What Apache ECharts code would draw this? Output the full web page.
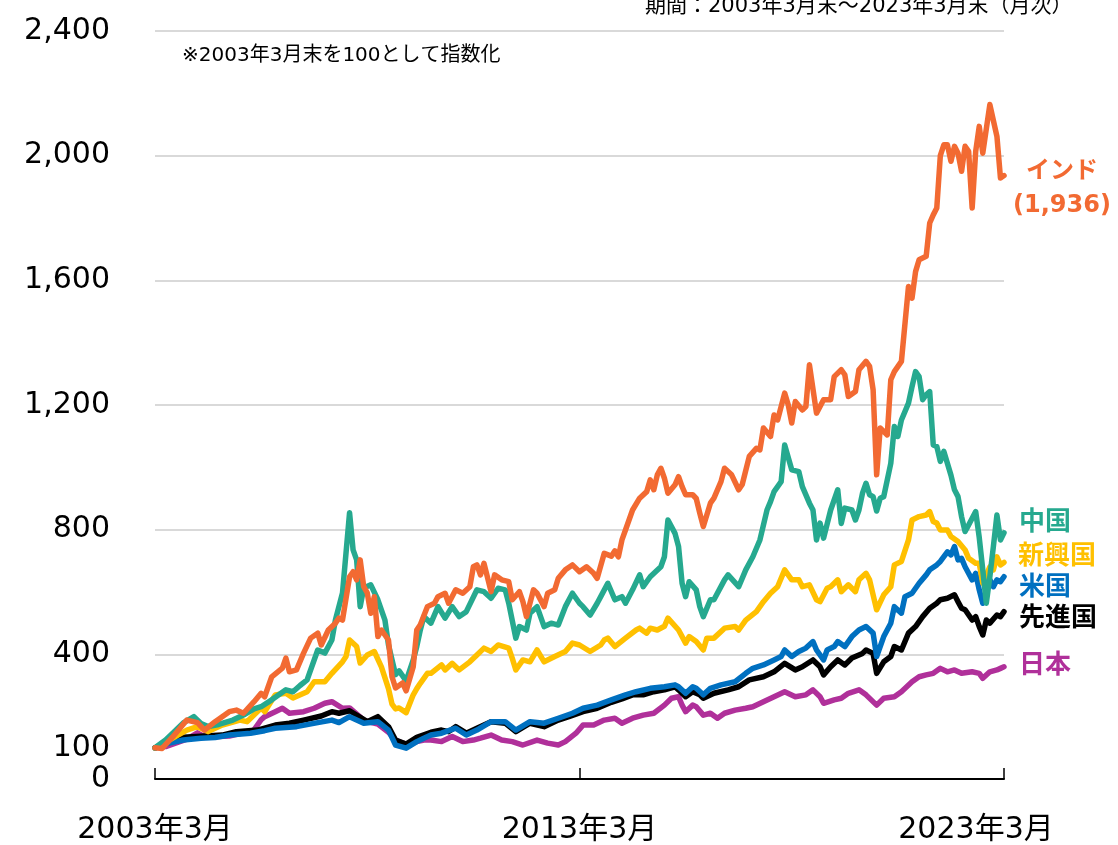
<!DOCTYPE html>
<html>
<head>
<meta charset="utf-8">
<script src="https://cdn.jsdelivr.net/npm/echarts@6/dist/echarts.min.js"></script>
<style>
html,body{margin:0;padding:0;background:#fff;}
#chart{width:1118px;height:845px;}
</style>
</head>
<body>
<div id="chart"></div>
<script>
// ---- data: [months since 2003-03, index value (2003-03 = 100)] ----
const xTickLabels = ['2003年3月', '2013年3月', '2023年3月'];
const yTicks = [0, 100, 400, 800, 1200, 1600, 2000, 2400];
const seriesNames = ['日本', '先進国', '米国', '新興国', '中国', 'インド'];

const india = [[0,100],[2,98],[5,135],[9,189],[12,181],[14,157],[17,184],[21,216],[23,221],[25,211],[28,248],[30,275],[31,264],[33,328],[36,356],[37,388],[38,344],[40,350],[42,404],[44,452],[46,468],[47,430],[49,478],[51,500],[52,516],[53,510],[55,649],[56,665],[57,639],[58,703],[59,617],[60,597],[61,532],[62,585],[63,457],[64,478],[66,446],[67,328],[68,292],[70,308],[71,283],[73,360],[74,478],[75,495],[77,553],[79,564],[80,585],[82,596],[83,564],[85,607],[87,596],[89,617],[90,681],[91,687],[92,655],[93,692],[95,601],[96,655],[98,639],[100,633],[101,575],[103,601],[104,569],[105,521],[107,607],[108,596],[110,553],[111,596],[113,607],[114,644],[116,671],[118,687],[120,665],[122,681],[124,660],[125,644],[127,724],[129,715],[130,732],[131,713],[132,767],[133,799],[135,863],[137,901],[139,922],[140,960],[141,928],[142,976],[143,997],[144,965],[145,917],[147,944],[148,970],[149,938],[150,912],[152,912],[153,900],[154,853],[155,810],[157,885],[158,901],[160,954],[161,997],[163,976],[165,928],[166,945],[168,1035],[170,1061],[171,1056],[172,1126],[174,1099],[175,1168],[176,1152],[178,1238],[179,1201],[180,1142],[181,1211],[183,1184],[184,1195],[185,1329],[187,1174],[189,1217],[191,1217],[192,1291],[194,1313],[195,1297],[196,1227],[198,1243],[199,1313],[201,1340],[202,1324],[203,1249],[204,976],[205,1126],[207,1104],[208,1281],[209,1307],[211,1340],[213,1580],[214,1543],[215,1628],[216,1666],[218,1677],[219,1784],[220,1810],[221,1832],[222,2000],[223,2035],[224,2035],[225,1982],[226,2030],[227,2008],[228,1950],[229,2030],[230,2014],[231,1832],[232,2014],[233,2094],[234,2008],[236,2164],[238,2062],[239,1928],[240,1936]];

const china = [[0,100],[3,125],[5,147],[8,180],[11,200],[13,178],[15,168],[18,175],[22,189],[25,205],[28,225],[30,232],[33,254],[35,270],[37,286],[39,280],[41,300],[43,318],[46,414],[48,404],[50,446],[51,510],[53,597],[55,854],[56,735],[57,703],[58,553],[59,613],[61,623],[63,575],[65,510],[66,430],[68,335],[69,347],[71,315],[73,382],[74,425],[75,478],[76,521],[78,500],[80,553],[82,516],[84,553],[86,521],[88,537],[91,607],[93,601],[95,580],[97,612],[99,607],[100,564],[102,452],[103,489],[105,478],[106,532],[108,553],[110,489],[112,500],[114,494],[116,553],[118,596],[120,564],[121,553],[123,526],[125,564],[126,585],[128,628],[130,575],[132,585],[133,564],[135,607],[137,655],[138,617],[140,649],[143,681],[144,713],[145,831],[147,788],[148,746],[149,628],[150,585],[151,633],[153,607],[154,553],[155,521],[157,575],[158,575],[161,639],[162,655],[165,617],[167,671],[169,713],[171,767],[173,863],[174,890],[175,922],[177,954],[178,1072],[180,992],[182,986],[183,938],[185,885],[186,863],[187,767],[188,821],[189,773],[191,863],[193,928],[194,820],[195,869],[197,863],[198,831],[199,863],[200,917],[201,949],[202,912],[203,906],[204,860],[205,901],[206,906],[208,1013],[209,1131],[210,1099],[211,1152],[213,1206],[214,1259],[215,1307],[216,1291],[217,1217],[218,1233],[219,1243],[220,1072],[221,1067],[222,1019],[223,1051],[225,975],[226,928],[227,906],[228,842],[229,794],[230,815],[232,858],[233,775],[234,671],[235,564],[236,649],[237,746],[238,847],[239,767],[240,790]];

const emerging = [[0,100],[4,125],[9,157],[12,168],[15,152],[19,173],[24,189],[26,184],[30,228],[31,216],[34,270],[37,275],[39,260],[43,280],[45,312],[48,312],[50,339],[53,376],[54,393],[55,446],[57,425],[58,372],[60,398],[62,409],[64,360],[66,290],[67,240],[68,225],[69,228],[71,213],[73,270],[74,290],[75,307],[77,339],[78,339],[81,366],[82,350],[84,371],[86,350],[89,376],[91,398],[93,420],[95,409],[97,430],[100,420],[101,387],[102,350],[104,382],[106,376],[108,414],[110,376],[113,393],[116,409],[118,436],[120,430],[123,409],[126,430],[127,446],[128,452],[130,425],[133,452],[136,478],[137,484],[139,468],[140,484],[142,478],[144,490],[145,516],[148,478],[150,436],[151,457],[153,441],[155,414],[156,452],[158,452],[161,484],[164,489],[165,478],[167,510],[170,537],[172,569],[174,596],[176,617],[178,671],[180,639],[182,639],[183,617],[185,623],[187,575],[188,569],[190,612],[191,617],[193,639],[194,601],[196,623],[198,601],[199,639],[201,660],[202,639],[204,543],[206,591],[208,617],[209,687],[211,698],[213,767],[214,831],[216,842],[218,847],[219,858],[220,826],[221,821],[222,799],[224,799],[225,778],[227,762],[229,735],[230,708],[232,692],[233,692],[234,628],[236,681],[237,671],[238,713],[239,687],[240,695]];

const usa = [[0,100],[4,115],[8,125],[13,131],[17,133],[21,141],[27,147],[31,155],[34,163],[40,168],[46,181],[50,189],[52,181],[55,200],[59,179],[63,184],[66,157],[68,109],[71,99],[74,120],[76,131],[78,141],[81,147],[85,163],[88,141],[91,157],[95,184],[99,184],[102,157],[106,184],[110,179],[114,195],[118,211],[121,227],[125,237],[129,254],[133,270],[136,280],[140,291],[144,296],[147,302],[148,296],[150,275],[152,296],[153,291],[155,270],[157,291],[160,302],[164,312],[167,339],[169,355],[172,366],[175,382],[177,393],[178,414],[180,393],[182,409],[184,420],[186,441],[187,414],[189,382],[190,414],[192,425],[193,441],[195,425],[197,457],[199,478],[201,489],[203,468],[204,393],[206,457],[208,500],[209,553],[211,532],[212,585],[214,596],[216,628],[218,655],[219,671],[221,687],[222,698],[224,729],[225,719],[226,746],[227,703],[228,708],[229,681],[231,639],[232,660],[233,607],[234,564],[236,639],[237,617],[238,639],[239,633],[240,649]];

const developed = [[0,100],[4,118],[8,134],[14,138],[19,141],[23,152],[29,157],[34,173],[38,179],[42,189],[47,202],[50,216],[52,211],[55,219],[60,184],[63,200],[66,168],[68,125],[71,112],[74,134],[78,150],[81,157],[83,152],[85,168],[88,147],[91,163],[95,184],[99,179],[102,152],[106,179],[110,168],[114,189],[117,200],[121,216],[125,227],[129,246],[132,257],[135,270],[138,270],[141,280],[144,286],[147,296],[148,286],[150,264],[152,280],[154,270],[155,259],[158,275],[162,286],[165,296],[168,318],[172,328],[175,344],[178,371],[181,350],[183,360],[186,382],[188,360],[189,334],[191,360],[193,382],[195,366],[197,388],[200,403],[201,414],[203,403],[204,339],[206,376],[208,393],[209,425],[211,414],[213,468],[215,489],[217,521],[219,548],[221,564],[222,575],[224,580],[226,591],[227,569],[228,548],[229,543],[231,510],[232,521],[233,489],[234,462],[235,510],[236,500],[238,526],[239,521],[240,537]];

const japan = [[0,100],[3,104],[6,116],[9,128],[12,148],[14,136],[18,136],[21,138],[24,146],[27,152],[28,158],[30,190],[31,200],[34,216],[36,227],[38,211],[42,216],[45,227],[48,243],[50,248],[53,227],[55,228],[59,189],[61,182],[63,176],[66,150],[68,125],[70,115],[72,110],[74,120],[76,125],[78,125],[81,120],[84,136],[87,120],[90,125],[92,131],[95,141],[98,125],[101,120],[104,109],[108,125],[111,115],[114,109],[116,120],[119,147],[121,173],[124,173],[127,189],[130,195],[132,179],[135,195],[138,205],[141,211],[144,237],[146,259],[148,264],[149,237],[150,216],[152,237],[153,232],[155,205],[157,211],[159,195],[161,211],[164,221],[167,227],[169,232],[172,248],[175,264],[178,280],[181,264],[184,270],[186,286],[188,264],[189,243],[192,254],[194,259],[196,275],[199,286],[201,270],[204,237],[206,259],[209,264],[211,280],[214,312],[216,328],[218,334],[220,339],[222,355],[224,344],[226,350],[228,339],[231,344],[233,339],[234,323],[236,344],[238,350],[239,355],[240,360]];

const indiaLast = india[india.length - 1][1];

// ---- styling ----
const FONT = "'DejaVu Sans', 'Noto Sans CJK JP', sans-serif";
const C = {
  japan: '#B0309A', developed: '#000000', usa: '#0070C0',
  emerging: '#FFC000', china: '#26A98F', india: '#F26A32'
};

const chart = echarts.init(document.getElementById('chart'), null, {renderer: 'canvas'});

function lineSeries(name, data, color) {
  return {
    name: name, type: 'line', data: data, showSymbol: false, symbol: 'none',
    lineStyle: {color: color, width: 5.5, join: 'round', cap: 'round'},
    itemStyle: {color: color}, xAxisIndex: 0, yAxisIndex: 0,
    emphasis: {disabled: true}, animation: false
  };
}

function labelText(x, y, text, color, align) {
  return {type: 'text', x: x, y: y, silent: true,
    style: {text: text, fontSize: 26, fontWeight: 'bold', fill: color, fontFamily: FONT,
            align: align || 'left', verticalAlign: 'middle'}};
}

const option = {
  animation: false,
  backgroundColor: '#ffffff',
  grid: {left: 155, right: 114, top: 31, bottom: 66, containLabel: false},
  xAxis: {
    type: 'value', min: 0, max: 240, interval: 120,
    axisLine: {show: true, lineStyle: {color: '#000', width: 2}},
    axisTick: {show: true, inside: true, length: 11, lineStyle: {color: '#000', width: 1.5}},
    splitLine: {show: false},
    axisLabel: {
      margin: 36, fontSize: 30, color: '#000', fontFamily: FONT,
      formatter: function (v) {
        const s = xTickLabels[Math.round(v / 120)];
        return v === 240 ? '{r|' + s + '}' : s;
      },
      rich: {r: {fontSize: 30, color: '#000', fontFamily: FONT, padding: [0, 56, 0, 0]}}
    }
  },
  yAxis: [{
    type: 'value', min: 0, max: 2400, interval: 400, position: 'left',
    axisLine: {show: false}, axisTick: {show: false},
    splitLine: {show: true, lineStyle: {color: '#d9d9d9', width: 2}},
    axisLabel: {
      margin: 45, fontSize: 30, color: '#000', fontFamily: FONT,
      formatter: function (v) { return yTicks.indexOf(v) >= 0 ? v.toLocaleString('en-US') : ''; }
    }
  }, {
    type: 'value', min: 0, max: 2400, interval: 100, position: 'left',
    axisLine: {show: false}, axisTick: {show: false}, splitLine: {show: false},
    axisLabel: {
      margin: 45, fontSize: 30, color: '#000', fontFamily: FONT,
      formatter: function (v) { return (v === 100 && yTicks.indexOf(v) >= 0) ? String(v) : ''; }
    }
  }],
  series: [
    lineSeries(seriesNames[0], japan, C.japan),
    lineSeries(seriesNames[1], developed, C.developed),
    lineSeries(seriesNames[2], usa, C.usa),
    lineSeries(seriesNames[3], emerging, C.emerging),
    lineSeries(seriesNames[4], china, C.china),
    lineSeries(seriesNames[5], india, C.india)
  ],
  graphic: [
    {type: 'text', left: 645, top: -4, silent: true,
     style: {text: '期間：2003年3月末～2023年3月末（月次）', fontSize: 21, fill: '#000', fontFamily: FONT}},
    {type: 'text', left: 182, top: 46, silent: true,
     style: {text: '※2003年3月末を100として指数化', fontSize: 20, fill: '#000', fontFamily: FONT}},
    {type: 'text', x: 1062, y: 172, silent: true,
     style: {text: 'インド', fontSize: 24, fontWeight: 'bold', fill: C.india, fontFamily: FONT, align: 'center', verticalAlign: 'middle'}},
    {type: 'text', x: 1062, y: 206, silent: true,
     style: {text: '(' + indiaLast.toLocaleString('en-US') + ')', fontSize: 24, fontWeight: 'bold', fill: C.india, fontFamily: FONT, align: 'center', verticalAlign: 'middle'}},
    labelText(1019, 523, seriesNames[4], C.china),
    labelText(1018, 557, seriesNames[3], C.emerging),
    labelText(1019, 588, seriesNames[2], C.usa),
    labelText(1019, 619, seriesNames[1], C.developed),
    labelText(1019, 666, seriesNames[0], C.japan)
  ]
};
chart.setOption(option);
</script>
</body>
</html>
